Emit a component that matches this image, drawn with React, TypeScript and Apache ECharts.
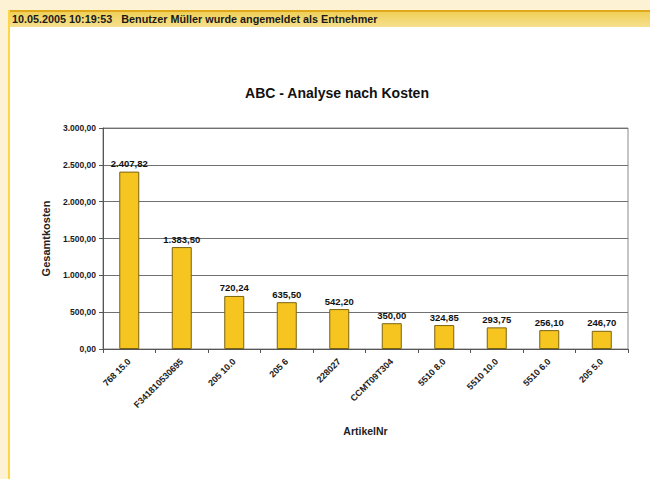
import React, { useEffect, useRef } from "react";
import * as echarts from "echarts";

const categories = ["768 15.0", "F341810530695", "205 10.0", "205 6", "228027", "CCMT09T304", "5510 8.0", "5510 10.0", "5510 6.0", "205 5.0"];
const costs = [2407.82, 1383.5, 720.24, 635.5, 542.2, 350.0, 324.85, 293.75, 256.1, 246.7];
const yTicks = { min: 0, max: 3000, interval: 500 };
const chartTitle = "ABC - Analyse nach Kosten";
const headerText = "10.05.2005 10:19:53   Benutzer Müller wurde angemeldet als Entnehmer";
const xName = "ArtikelNr";
const yName = "Gesamtkosten";

const FONT = "'Liberation Sans', Arial, sans-serif";

function deFormat(v: number): string {
  const fixed = v.toFixed(2);
  const [intPart, dec] = fixed.split(".");
  const withDots = intPart.replace(/\B(?=(\d{3})+(?!\d))/g, ".");
  return withDots + "," + dec;
}

export default function App() {
  const ref = useRef<HTMLDivElement>(null);
  useEffect(() => {
    if (!ref.current) return;
    const chart = echarts.init(ref.current, null, { renderer: "svg" });
    chart.setOption({
      animation: false,
      backgroundColor: "#fdf2d3",
      graphic: [
        { type: "rect", z: -10, shape: { x: 8, y: 27, width: 642, height: 452 }, style: { fill: "#ffffff" } },
        { type: "rect", z: -9, shape: { x: 8, y: 11, width: 642, height: 16 },
          style: { fill: new echarts.graphic.LinearGradient(0, 0, 0, 1, [
            { offset: 0, color: "#efcf55" }, { offset: 1, color: "#f6e08e" }]) } },
        { type: "rect", z: -8, shape: { x: 8, y: 10, width: 642, height: 2 }, style: { fill: "#e2a81c" } },
        { type: "rect", z: -8, shape: { x: 8, y: 10, width: 2, height: 469 }, style: { fill: "#ffd646" } },
        { type: "text", x: 12, y: 19, style: { text: headerText, font: `bold 10.8px ${FONT}`, fill: "#1a1a1a", textVerticalAlign: "middle" } },
      ],
      title: {
        text: chartTitle,
        left: 332,
        top: 81,
        textAlign: "center",
        textStyle: { fontFamily: FONT, fontSize: 14, fontWeight: "bold", color: "#111" },
      },
      grid: { left: 103, right: 22, top: 128, bottom: 130, show: true, borderColor: "#8a8a8a", borderWidth: 1, backgroundColor: "transparent" },
      xAxis: {
        type: "category",
        data: categories,
        name: xName,
        nameLocation: "middle",
        nameGap: 76,
        nameTextStyle: { fontFamily: FONT, fontSize: 10.5, fontWeight: "bold", color: "#222" },
        axisLine: { lineStyle: { color: "#555", width: 1 } },
        axisTick: { show: true, length: 4, lineStyle: { color: "#555" } },
        axisLabel: { interval: 0, rotate: 45, fontFamily: FONT, fontSize: 9, fontWeight: "bold", color: "#222", margin: 11 },
      },
      yAxis: {
        type: "value",
        min: yTicks.min,
        max: yTicks.max,
        interval: yTicks.interval,
        name: yName,
        nameLocation: "middle",
        nameGap: 52,
        nameTextStyle: { fontFamily: FONT, fontSize: 11, fontWeight: "bold", color: "#222" },
        axisLine: { show: true, lineStyle: { color: "#555", width: 1 } },
        axisTick: { show: true, length: 4, lineStyle: { color: "#555" } },
        axisLabel: { formatter: (v: number) => deFormat(v), fontFamily: FONT, fontSize: 8.5, fontWeight: "bold", color: "#1a1a1a", margin: 7 },
        splitLine: { show: true, lineStyle: { color: "#707070", width: 1 } },
      },
      series: [
        {
          type: "bar",
          data: costs,
          barWidth: 20,
          itemStyle: { color: "#f6c520", borderColor: "#7a6410", borderWidth: 1 },
          label: {
            show: true,
            position: "top",
            distance: 3,
            formatter: (p: any) => deFormat(p.value),
            fontFamily: FONT,
            fontSize: 9.5,
            fontWeight: "bold",
            color: "#111",
          },
        },
      ],
    });
    return () => chart.dispose();
  }, []);
  return (
    <div style={{ position: "absolute", left: 0, top: 0, width: 650, height: 479 }}>
      <div ref={ref} style={{ width: 650, height: 479 }} />
    </div>
  );
}
